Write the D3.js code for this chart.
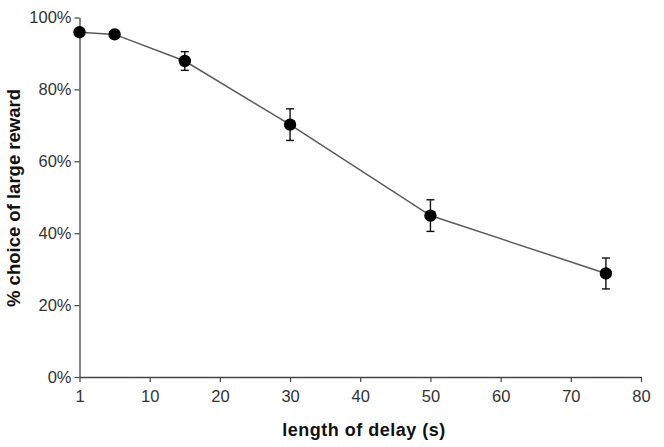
<!DOCTYPE html>
<html>
<head>
<meta charset="utf-8">
<script src="https://cdn.jsdelivr.net/npm/d3@7"></script>
<style>
  html, body { margin: 0; padding: 0; background: #fff; }
  svg { display: block; }
</style>
</head>
<body>
<svg id="chart" width="664" height="447"></svg>
<script>
// Data
const delays = [1, 5, 15, 30, 50, 75];
const choicePct = [95.9, 95.3, 87.9, 70.2, 44.9, 28.8];
const errorPct = [0.6, 1.0, 2.6, 4.4, 4.4, 4.3];
const xTicks = [1, 10, 20, 30, 40, 50, 60, 70, 80];
const yTicks = [0, 20, 40, 60, 80, 100];
const xTitle = "length of delay (s)";
const yTitle = "% choice of large reward";

(function () {
const svg = d3.select("#chart");
const mLeft = 79.5, mRight = 641, mTop = 17.5, mBottom = 377;
const w = mRight - mLeft;

// The first category (1 s) sits at the axis origin; the rest are linear from 0.
const x = d3.scaleLinear().domain([1, 5, 80]).range([mLeft, mLeft + w * 5 / 80, mRight]);
const y = d3.scaleLinear().domain([0, 100]).range([mBottom, mTop]);

const axisColor = "#444";
const tickFont = "'Liberation Sans', Arial, sans-serif";

// X axis
const gx = svg.append("g").attr("transform", `translate(0,${mBottom})`)
  .call(d3.axisBottom(x).tickValues(xTicks).tickSizeInner(5).tickSizeOuter(0).tickPadding(8).tickFormat(d3.format("d")));
gx.select(".domain").attr("stroke", axisColor).attr("stroke-width", 1.3);
gx.selectAll(".tick line").attr("stroke", axisColor).attr("stroke-width", 1.2);
gx.selectAll(".tick text").attr("fill", "#333").attr("font-size", "16.5px").attr("font-family", tickFont);

// Y axis
const gy = svg.append("g").attr("transform", `translate(${mLeft},0)`)
  .call(d3.axisLeft(y).tickValues(yTicks).tickSizeInner(5).tickSizeOuter(0).tickPadding(3).tickFormat(d => d + "%"));
gy.select(".domain").attr("stroke", axisColor).attr("stroke-width", 1.3);
gy.selectAll(".tick line").attr("stroke", axisColor).attr("stroke-width", 1.2);
gy.selectAll(".tick text").attr("fill", "#333").attr("font-size", "16.5px").attr("font-family", tickFont);

const pts = delays.map((d, i) => ({ x: d, y: choicePct[i], e: errorPct[i] }));

// Connecting line
svg.append("path").datum(pts)
  .attr("fill", "none").attr("stroke", "#5a5a5a").attr("stroke-width", 1.5)
  .attr("d", d3.line().x(d => x(d.x)).y(d => y(d.y)));

// Error bars
const eb = svg.append("g").attr("stroke", "#111").attr("stroke-width", 1.4);
pts.forEach(d => {
  const cx = x(d.x);
  eb.append("line").attr("x1", cx).attr("x2", cx).attr("y1", y(d.y + d.e)).attr("y2", y(d.y - d.e));
  eb.append("line").attr("x1", cx - 4).attr("x2", cx + 4).attr("y1", y(d.y + d.e)).attr("y2", y(d.y + d.e));
  eb.append("line").attr("x1", cx - 4).attr("x2", cx + 4).attr("y1", y(d.y - d.e)).attr("y2", y(d.y - d.e));
});

// Markers
svg.append("g").selectAll("circle").data(pts).join("circle")
  .attr("cx", d => x(d.x)).attr("cy", d => y(d.y)).attr("r", 6.2).attr("fill", "#000");

// Axis titles
svg.append("text").attr("x", 364).attr("y", 436).attr("text-anchor", "middle")
  .attr("font-family", tickFont).attr("font-weight", "bold").attr("font-size", "18px")
  .attr("letter-spacing", "0.5px").attr("fill", "#111").text(xTitle);

svg.append("text").attr("transform", "translate(20,198) rotate(-90)").attr("text-anchor", "middle")
  .attr("font-family", tickFont).attr("font-weight", "bold").attr("font-size", "18.5px")
  .attr("fill", "#111").text(yTitle);
})();
</script>
</body>
</html>
